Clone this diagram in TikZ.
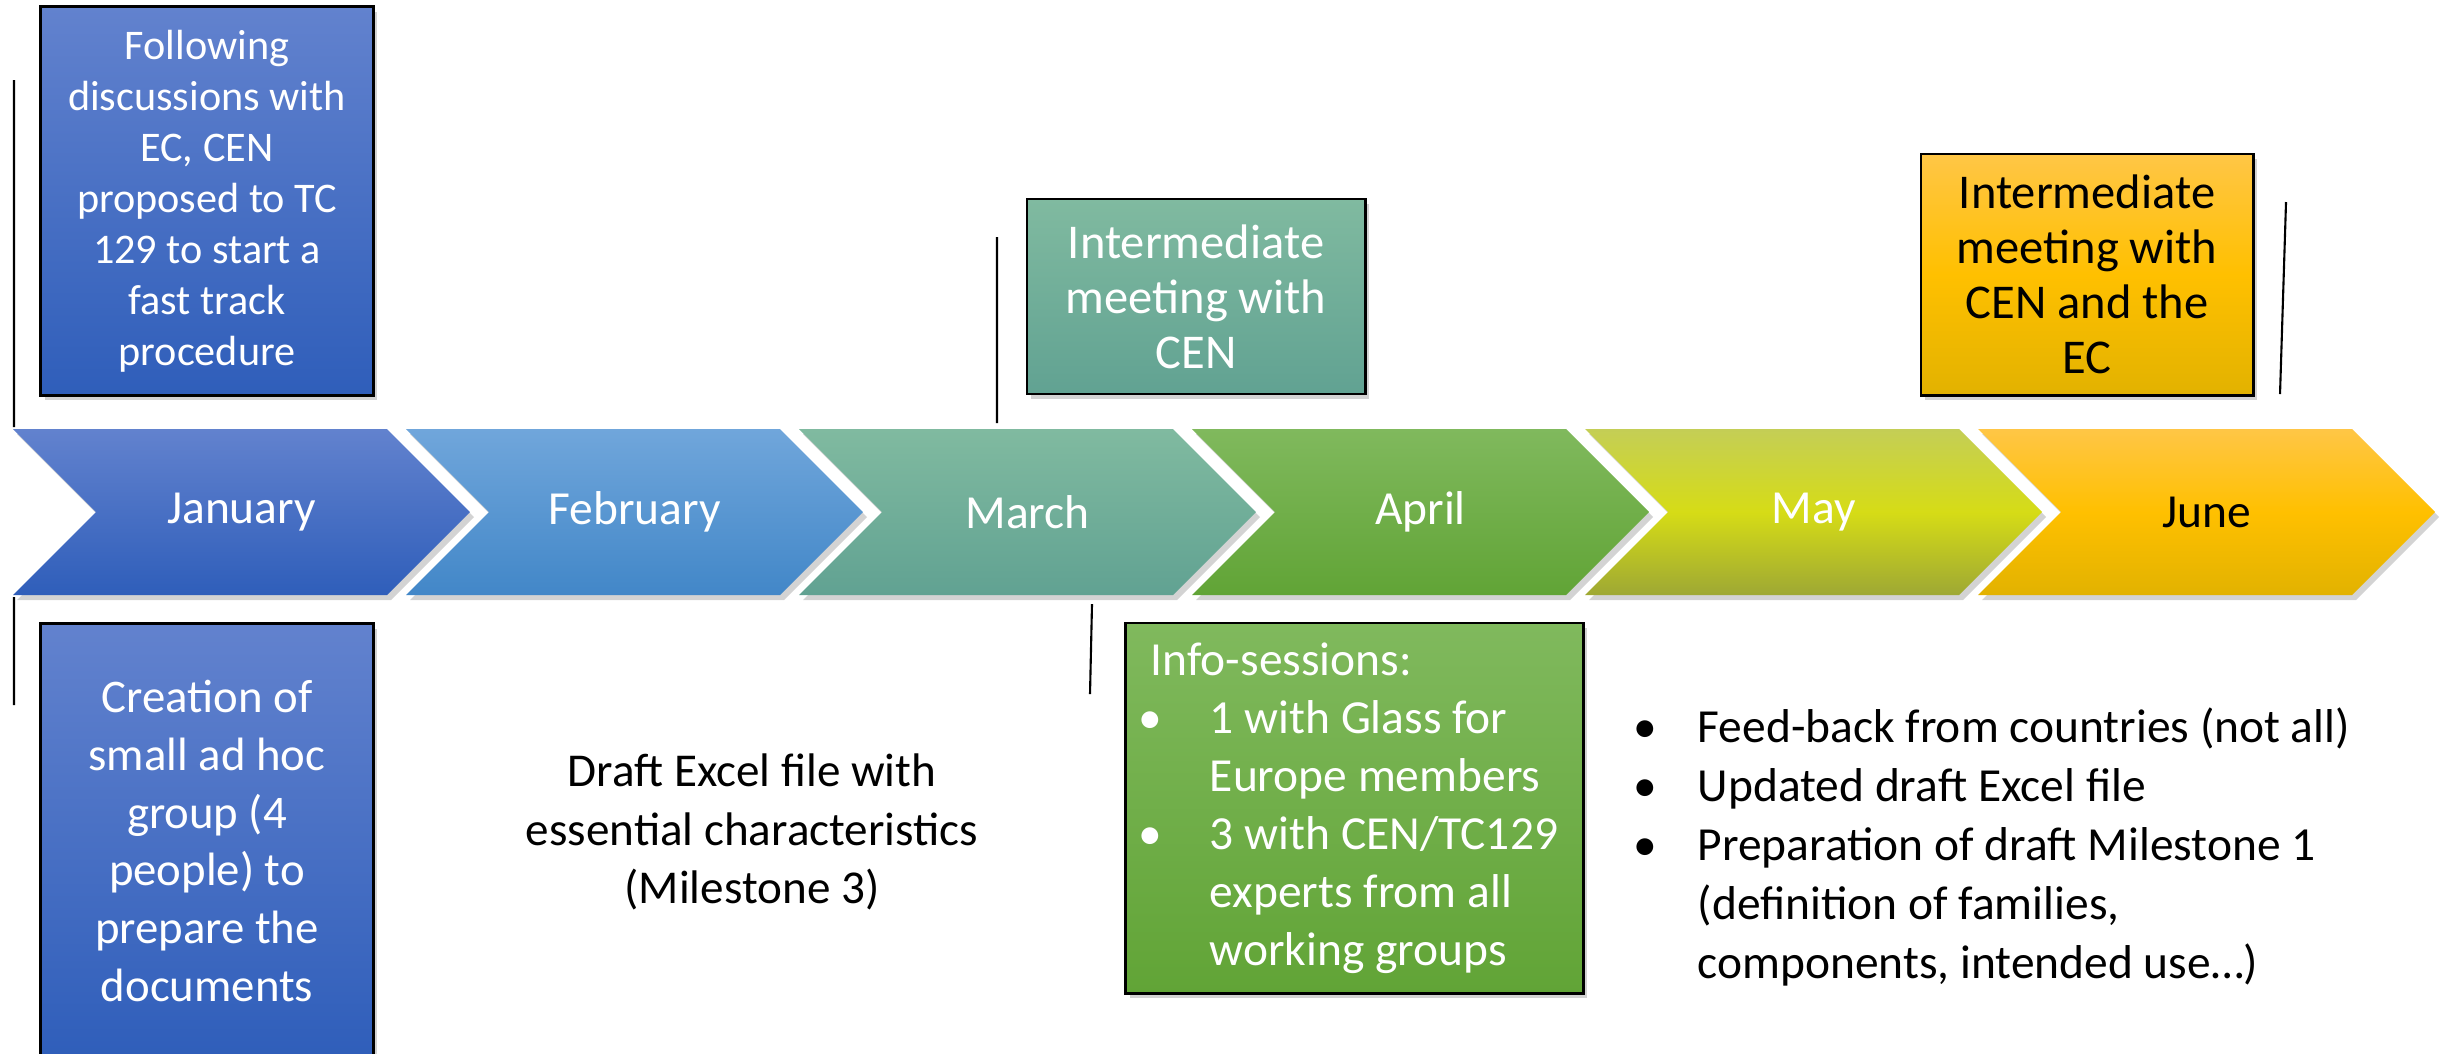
\documentclass[tikz,border=0pt]{standalone}
\usepackage{fontspec}
\setmainfont{Carlito}
\usetikzlibrary{shadows}

\definecolor{janTop}{RGB}{98,130,206}
\definecolor{janBot}{RGB}{47,94,186}
\definecolor{febTop}{RGB}{112,166,219}
\definecolor{febBot}{RGB}{66,135,200}
\definecolor{marTop}{RGB}{128,186,160}
\definecolor{marBot}{RGB}{97,162,146}
\definecolor{aprTop}{RGB}{128,185,93}
\definecolor{aprBot}{RGB}{97,164,54}
\definecolor{mayTop}{RGB}{196,206,86}
\definecolor{mayMid}{RGB}{214,220,22}
\definecolor{mayBot}{RGB}{158,168,52}
\definecolor{junTop}{RGB}{255,198,70}
\definecolor{junMid}{RGB}{255,192,0}
\definecolor{junBot}{RGB}{226,178,0}

\newcommand{\bul}[1]{\makebox[#1][l]{\hspace*{-0.12cm}\textbullet}}

\tikzset{
  janfill/.style={top color=janTop,bottom color=janBot},
  febfill/.style={top color=febTop,bottom color=febBot},
  marfill/.style={top color=marTop,bottom color=marBot},
  aprfill/.style={top color=aprTop,bottom color=aprBot},
  mayfill/.style={top color=mayTop,bottom color=mayBot,middle color=mayMid},
  junfill/.style={top color=junTop,bottom color=junBot,middle color=junMid},
  chevron/.style={drop shadow={shadow xshift=0.04cm,shadow yshift=-0.05cm,opacity=0.35}},
  monthtext/.style={font=\fontsize{13.5}{16}\selectfont,text=white},
  note/.style={draw=black,line width=0.8pt,align=center,inner sep=0pt,text=white,
    drop shadow={shadow xshift=0.04cm,shadow yshift=-0.05cm,opacity=0.35}},
  plaintext/.style={inner sep=0pt,font=\fontsize{13.4}{16.7}\selectfont},
  tick/.style={line width=0.6pt}
}

\begin{document}
\begin{tikzpicture}[x=0.01cm,y=-0.01cm]
\useasboundingbox (0,0) rectangle (2440,1053);

% the months
\foreach \i/\sty/\txt/\col in {0/janfill/January/white,1/febfill/February/white,
    2/marfill/March/white,3/aprfill/April/white,4/mayfill/May/white,5/junfill/June/black}{
  \pgfmathsetmacro{\L}{13+393*\i}
  \path[\sty,chevron] (\L,429) -- ++(374,0) -- ++(83,83) -- ++(-83,83)
      -- ++(-374,0) -- ++(83,-83) -- cycle;
  \node[monthtext,text=\col] (m\i) at (\L+228.5,512) {\txt};
}

% boxes
\node[note,janfill,minimum width=3.32cm,minimum height=3.88cm,
      font=\fontsize{12}{14.5}\selectfont] (jantop) at (207,201)
  {Following\\discussions with\\EC, CEN\\proposed to TC\\129 to start a\\fast track\\procedure};
\node[note,janfill,minimum width=3.32cm,minimum height=4.34cm,
      font=\fontsize{13.3}{16.4}\selectfont] (janbot) at (207,841)
  {Creation of\\small ad hoc\\group (4\\people) to\\prepare the\\documents};
\node[note,marfill,minimum width=3.38cm,minimum height=1.95cm,
      font=\fontsize{13.8}{15.6}\selectfont] (marbox) at (1196,296.5)
  {Intermediate\\meeting with\\CEN};
\node[note,junfill,text=black,minimum width=3.32cm,minimum height=2.41cm,
      font=\fontsize{13.8}{15.6}\selectfont] (junbox) at (2087,274.5)
  {Intermediate\\meeting with\\CEN and the\\EC};
\node[note,aprfill,align=left,minimum width=4.57cm,minimum height=3.70cm,
      font=\fontsize{13.5}{16.5}\selectfont] (aprbox) at (1354.5,808)
  {Info-sessions:\\
   \bul{0.59cm}1 with Glass for\\
   \hspace*{0.59cm}Europe members\\
   \bul{0.59cm}3 with CEN/TC129\\
   \hspace*{0.59cm}experts from all\\
   \hspace*{0.59cm}working groups};

% free texts
\node[plaintext,align=center] (febtxt) at (752,832)
  {Draft Excel file with\\essential characteristics\\(Milestone 3)};
\node[plaintext,align=left,anchor=west,font=\fontsize{13.5}{16.8}\selectfont] (maytxt) at (1645,847)
  {\bul{0.52cm}Feed-back from countries (not all)\\
   \bul{0.52cm}Updated draft Excel file\\
   \bul{0.52cm}Preparation of draft Milestone 1\\
   \hspace*{0.52cm}(definition of families,\\
   \hspace*{0.52cm}components, intended use…)};

% markers
\coordinate (a1) at (14,80);    \coordinate (a2) at (14,427);
\coordinate (b1) at (14,597);   \coordinate (b2) at (14,705);
\coordinate (c1) at (997,237);  \coordinate (c2) at (997,423);
\coordinate (d1) at (1092,604); \coordinate (d2) at (1090,694);
\coordinate (e1) at (2286,202); \coordinate (e2) at (2280,394);
\draw[tick] (a1) -- (a2)
            (b1) -- (b2)
            (c1) -- (c2)
            (d1) -- (d2)
            (e1) -- (e2);
\end{tikzpicture}
\end{document}
